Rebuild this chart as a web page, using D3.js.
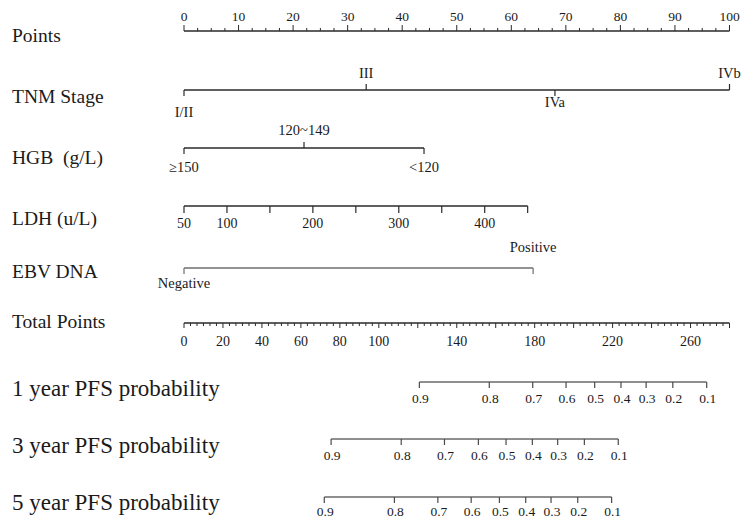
<!DOCTYPE html>
<html>
    <head>
        <title>Nomogram</title>
        <script src="https://d3js.org/d3.v7.min.js"></script>
        <style>
            body { margin: 0; background: #fff; }
            text { font-family: "Liberation Serif", "Times New Roman", serif; fill: #1a1a1a; }
        </style>
    </head>
    <body>
        <svg width="742" height="520"></svg>
        <script>
            // row names
            const rowNames = ["Points", "TNM Stage", "HGB  (g/L)", "LDH (u/L)", "EBV DNA", "Total Points",
                "1 year PFS probability", "3 year PFS probability", "5 year PFS probability"];

            // points scale ticks
            const pointTicks = d3.range(0, 101, 10);

            // TNM stage
            const tnmLevels = ["I/II", "III", "IVa", "IVb"];
            const tnmPoints = [0, 33.4, 68, 100];

            // HGB
            const hgbLevels = ["\u2265150", "120~149", "<120"];
            const hgbPoints = [0, 22, 44];

            // LDH (u/L), linear from 50 (0 pts) to 450 (63 pts)
            const ldhValues = [50, 100, 150, 200, 250, 300, 350, 400, 450];
            const ldhLabels = [50, 100, 200, 300, 400];
            const ldhRange = [50, 450];
            const ldhPointRange = [0, 63];

            // EBV DNA
            const ebvLevels = ["Negative", "Positive"];
            const ebvPoints = [0, 64];

            // total points
            const totalMax = 280;
            const totalLabels = [0, 20, 40, 60, 80, 100, 140, 180, 220, 260];

            // survival probabilities and their total points
            const probTicks = [0.9, 0.8, 0.7, 0.6, 0.5, 0.4, 0.3, 0.2, 0.1];
            const pfs1Total = [120.8, 156.7, 179, 196.1, 210.8, 224.3, 237.2, 250.9, 268.3];
            const pfs3Total = [75.5, 111.5, 133.7, 151.1, 165.3, 178.8, 191.8, 205.5, 222.9];
            const pfs5Total = [72, 108, 130.3, 147.4, 161.9, 175.4, 188.4, 202.1, 219.5];

            const svg = d3.select("svg");
            const x0 = 184, x1 = 729.5;
            const xPts = d3.scaleLinear().domain([0, 100]).range([x0, x1]);
            const xTot = d3.scaleLinear().domain([0, totalMax]).range([x0, x1]);
            const xLdh = d3.scaleLinear().domain(ldhRange).range(ldhPointRange.map(xPts));

            // layout of rows
            const lineY = [31, 90, 148, 206, 268, 323, 382, 439, 497];
            const nameY = [35, 96, 157, 218, 271, 321, 388, 445, 502];
            const probLabelOff = [16, 16, 14];
            const ink = "#2a2a2a";

            // row labels on the left
            svg.append("g").selectAll("text")
                .data(rowNames)
                .join("text")
                .attr("x", 12)
                .attr("y", (d, i) => nameY[i])
                .attr("dy", "0.35em")
                .attr("font-size", (d, i) => i >= 6 ? 23 : 19.5)
                .style("white-space", "pre")
                .text(d => d);

            function hline(y, a, b, color, w) {
                svg.append("line")
                    .attr("x1", a).attr("x2", b)
                    .attr("y1", y).attr("y2", y)
                    .attr("stroke", color).attr("stroke-width", w);
            }
            function tick(x, y, len, color, w) {
                svg.append("line")
                    .attr("x1", x).attr("x2", x)
                    .attr("y1", y).attr("y2", y + len)
                    .attr("stroke", color).attr("stroke-width", w);
            }
            function label(x, y, txt, size) {
                svg.append("text")
                    .attr("x", x).attr("y", y)
                    .attr("dy", "0.35em")
                    .attr("text-anchor", "middle")
                    .attr("font-size", size)
                    .text(txt);
            }

            // Points axis (ticks up)
            hline(lineY[0], x0, x1, ink, 1.4);
            d3.range(0, 100.1, 2.5).forEach(v => {
                const major = v % 10 === 0;
                tick(xPts(v), lineY[0], major ? -6 : -3, ink, 1);
            });
            pointTicks.forEach(v => label(xPts(v), 16, v, 13.5));

            // categorical rows, labels alternating above / below
            function catRow(levels, pts, y, belowOff, aboveOff, color, upTicks) {
                hline(y, xPts(pts[0]), xPts(pts[pts.length - 1]), color, 1.4);
                levels.forEach((lv, i) => {
                    const above = i % 2 === 1;
                    const up = upTicks ? above : false;
                    tick(xPts(pts[i]), y, up ? -6 : 6, color, 1.2);
                    const off = above ? aboveOff : (typeof belowOff === "function" ? belowOff(i) : belowOff);
                    label(xPts(pts[i]), y + off, lv, 14.5);
                });
            }
            catRow(tnmLevels, tnmPoints, lineY[1], i => i === 0 ? 21.5 : 12, -17, ink, true);
            catRow(hgbLevels, hgbPoints, lineY[2], 18.5, -18, ink, true);
            catRow(ebvLevels, ebvPoints, lineY[4], 15, -21, "#6e6e6e", false);

            // LDH axis (ticks down)
            hline(lineY[3], xLdh(ldhRange[0]), xLdh(ldhRange[1]), ink, 1.4);
            ldhValues.forEach(v => tick(xLdh(v), lineY[3], 7, ink, 1.2));
            ldhLabels.forEach(v => label(xLdh(v), lineY[3] + 17, v, 14));

            // Total Points axis (ticks down)
            hline(lineY[5], x0, x1, ink, 1.4);
            d3.range(0, totalMax + 0.01, 20 / 6).forEach(v => {
                const major = Math.abs(v / 20 - Math.round(v / 20)) < 1e-6;
                tick(xTot(v), lineY[5], major ? 5 : 3, ink, 1);
            });
            totalLabels.forEach(v => label(xTot(v), lineY[5] + 18.5, v, 14));

            // probability axes
            [pfs1Total, pfs3Total, pfs5Total].forEach((tot, k) => {
                const y = lineY[6 + k];
                hline(y, xTot(tot[0]), xTot(tot[tot.length - 1]), "#6a6a6a", 1.3);
                tot.forEach((t, i) => {
                    tick(xTot(t), y, 6, "#4a4a4a", 1.2);
                    label(xTot(t) + 1, y + probLabelOff[k], probTicks[i], 13.5);
                });
            });
        </script>
    </body>
</html>
